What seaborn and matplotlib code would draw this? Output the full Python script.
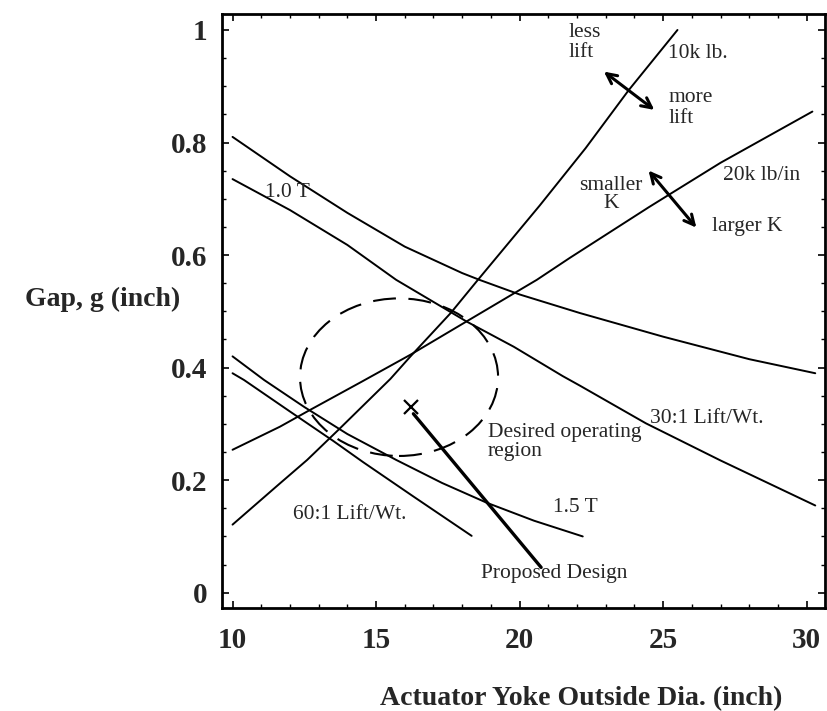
import numpy as np
import pandas as pd
import matplotlib
matplotlib.use('Agg')
import matplotlib.pyplot as plt
from matplotlib.patches import Ellipse
from matplotlib.ticker import MultipleLocator
import seaborn as sns

# curves (x = yoke outside dia., y = gap)
one_t_x = [10, 12, 14, 16, 18, 18.6, 20, 22.1, 25, 28, 30.3]
one_t_y = [0.81, 0.74, 0.675, 0.615, 0.568, 0.556, 0.53, 0.497, 0.455, 0.415, 0.39]

lw30_x = [10, 12, 14, 15.7, 18.15, 19.8, 21.5, 22.1, 24.4, 27, 30.3]
lw30_y = [0.735, 0.68, 0.618, 0.556, 0.482, 0.437, 0.385, 0.368, 0.301, 0.235, 0.155]

t15_x = [10, 11.1, 12.5, 14, 15.7, 17.3, 18.85, 20.5, 22.2]
t15_y = [0.42, 0.378, 0.33, 0.282, 0.236, 0.195, 0.16, 0.128, 0.10]

lw60_x = [10, 10.4, 12, 13.5, 14.55, 16.3, 18.33]
lw60_y = [0.39, 0.378, 0.322, 0.27, 0.232, 0.171, 0.101]

k10_x = [10, 11.6, 12.6, 13.7, 15.5, 16.2, 17.6, 18.5, 20.7, 22.3, 23.8, 25.5]
k10_y = [0.121, 0.192, 0.236, 0.29, 0.38, 0.42, 0.497, 0.553, 0.688, 0.79, 0.893, 1.0]

k20_x = [10, 11.65, 12.6, 14.5, 16.2, 18.15, 20.6, 21.75, 24.5, 27, 30.2]
k20_y = [0.254, 0.295, 0.322, 0.375, 0.423, 0.482, 0.556, 0.595, 0.685, 0.764, 0.855]

design_x = [16.3, 20.75]
design_y = [0.318, 0.045]
design_pt = (16.2, 0.33)

region_center = (15.8, 0.383)
region_w = 6.9
region_h = 0.28

x_ticks = [10, 15, 20, 25, 30]
y_ticks = [0, 0.2, 0.4, 0.6, 0.8, 1.0]
y_ticklabels = ['0', '0.2', '0.4', '0.6', '0.8', '1']

sns.set_style('ticks')
plt.rcParams['font.family'] = ['Liberation Serif', 'DejaVu Serif']

fig = plt.figure(figsize=(8.27, 7.11), dpi=100)
ax = fig.add_axes([0.268, 0.145, 0.7296, 0.835])

curves = [(one_t_x, one_t_y), (lw30_x, lw30_y), (t15_x, t15_y),
          (lw60_x, lw60_y), (k10_x, k10_y), (k20_x, k20_y)]
for cx, cy in curves:
    sns.lineplot(x=cx, y=cy, sort=False, color='black', lw=1.4, ax=ax)

# proposed design pointer
sns.lineplot(x=design_x, y=design_y, sort=False, color='black', lw=2.4, ax=ax)
ax.plot(*design_pt, marker='x', color='black', ms=10, mew=1.6)

ax.add_patch(Ellipse(region_center, region_w, region_h, fill=False,
                     ec='black', lw=1.5, ls=(0, (11, 6))))

# arrows
ax.annotate('', xy=(22.86, 0.929), xytext=(24.77, 0.855),
            arrowprops=dict(arrowstyle='<->', lw=2.2, color='black', mutation_scale=18))
ax.annotate('', xy=(24.43, 0.754), xytext=(26.22, 0.645),
            arrowprops=dict(arrowstyle='<->', lw=2.2, color='black', mutation_scale=18))

fs = 15.5
ax.text(21.69, 0.978, 'less\nlift', fontsize=fs, va='center', linespacing=1.1)
ax.text(25.18, 0.958, '10k lb.', fontsize=fs, va='center')
ax.text(25.18, 0.861, 'more\nlift', fontsize=fs, va='center', linespacing=1.1)
ax.text(27.09, 0.742, '20k lb/in', fontsize=fs, va='center')
ax.text(23.19, 0.708, 'smaller\nK', fontsize=fs, va='center', ha='center', linespacing=0.95)
ax.text(26.69, 0.651, 'larger K', fontsize=fs, va='center')
ax.text(11.9, 0.712, '1.0 T', fontsize=fs, va='center', ha='center')
ax.text(24.55, 0.31, '30:1 Lift/Wt.', fontsize=fs, va='center')
ax.text(18.9, 0.268, 'Desired operating\nregion', fontsize=fs, va='center', linespacing=0.98)
ax.text(12.1, 0.139, '60:1 Lift/Wt.', fontsize=fs, va='center')
ax.text(21.16, 0.151, '1.5 T', fontsize=fs, va='center')
ax.text(21.2, 0.035, 'Proposed Design', fontsize=fs, va='center', ha='center')

ax.set_xlim(9.62, 30.64)
ax.set_ylim(-0.027, 1.028)
ax.set_xticks(x_ticks)
ax.set_yticks(y_ticks)
ax.set_yticklabels(y_ticklabels)
ax.xaxis.set_minor_locator(MultipleLocator(1))
ax.yaxis.set_minor_locator(MultipleLocator(0.05))
ax.tick_params(which='both', direction='in', top=True, right=True, color='black')
ax.tick_params(which='major', length=5, width=1.2)
ax.tick_params(which='minor', length=3, width=1)
ax.tick_params(axis='x', which='major', pad=14)
ax.tick_params(axis='y', which='major', pad=10)
for lab in ax.get_xticklabels() + ax.get_yticklabels():
    lab.set_fontsize(21)
    lab.set_fontweight('bold')

for side in ax.spines.values():
    side.set_linewidth(2)
    side.set_color('black')

ax.set_xlabel('Actuator Yoke Outside Dia. (inch)', fontsize=20, fontweight='bold',
              va='center')
ax.xaxis.set_label_coords(0.596, -0.153)
ax.set_ylabel('Gap, g (inch)', fontsize=20, fontweight='bold', rotation=0,
              ha='right', va='center')
ax.yaxis.set_label_coords(-0.069, 0.52)

fig.savefig('out.png', dpi=100)
